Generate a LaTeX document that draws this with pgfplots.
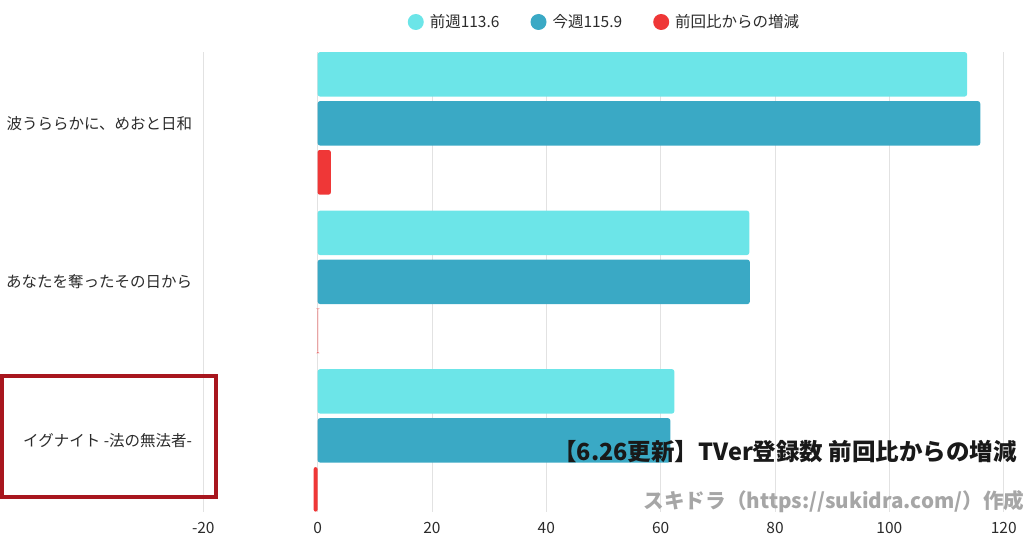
\documentclass[border=0pt]{standalone}
\usepackage{fontspec}
\setmainfont{Noto Sans CJK JP}
\usepackage{pgfplots}
\pgfplotsset{compat=1.18}
\definecolor{prevc}{HTML}{6CE5E8}
\definecolor{curc}{HTML}{3AA9C5}
\definecolor{diffc}{HTML}{EF3737}
\definecolor{boxc}{HTML}{A8161E}
\definecolor{gridc}{HTML}{E2E2E2}
\definecolor{txtc}{HTML}{2B2B2B}
\pgfplotsset{
    xbar legend/.style={
        /pgfplots/legend image code/.code={%
            \fill[##1] (8pt,0pt) circle (8pt);
            \path[fill=none, draw=none] (0pt,-8pt) rectangle (22pt,8pt);}},
}

\begin{document}
\begin{tikzpicture}
\path[use as bounding box] (0,0) rectangle (1024pt,538pt);
\begin{axis}[
    at={(203.3pt,26.3pt)}, anchor=south west,
    scale only axis, width=800.4pt, height=459.7pt,
    xbar, bar width=44.5pt,
    xmin=-20, xmax=120, ymin=-0.45, ymax=2.45,
    xtick={-20,0,20,40,60,80,100,120},
    ytick={0,1,2},
    yticklabels={イグナイト -法の無法者-, あなたを奪ったその日から, 波うららかに、めおと日和},
    xmajorgrids,
    major grid style={gridc, line width=0.8pt},
    axis line style={draw=none},
    major tick length=0pt,
    tick label style={font=\fontsize{15.5}{18}\selectfont, text=txtc},
    /pgf/number format/assume math mode=true,
    xticklabel style={anchor=north, inner sep=0pt, yshift=-10pt},
    yticklabel style={anchor=east, inner sep=0pt, xshift=-11pt},
    legend columns=3,
    legend style={draw=none, fill=none, at={(0.5,1)}, anchor=center, yshift=30pt,
        font=\fontsize{15.5}{18}\selectfont, text=txtc,
        nodes={inner sep=0pt},
        /tikz/every even column/.append style={column sep=31pt}},
]
\addplot[fill=prevc, draw=none, rounded corners=2.5pt, bar shift=49pt]
    coordinates {(113.6,2) (75.5,1) (62.4,0)};
\addplot[fill=curc, draw=none, rounded corners=2.5pt, bar shift=0pt]
    coordinates {(115.9,2) (75.6,1) (61.7,0)};
\addplot[fill=diffc, draw=none, rounded corners=2pt, bar shift=-49pt]
    coordinates {(2.3,2) (0.1,1) (-0.7,0)};
\legend{前週113.6, 今週115.9, 前回比からの増減}
\end{axis}
\draw[boxc, line width=4pt] (1.5pt,162pt) rectangle (215.5pt,41pt);
\node[font=\fontsize{23.5}{28}\selectfont\bfseries, text=black!90] at (785pt,86pt) {【6.26更新】TVer登録数 前回比からの増減};
\node[font=\fontsize{20.6}{26}\selectfont\bfseries, text=black!35] at (834pt,36pt) {スキドラ（https://sukidra.com/）作成};
\end{tikzpicture}
\end{document}
